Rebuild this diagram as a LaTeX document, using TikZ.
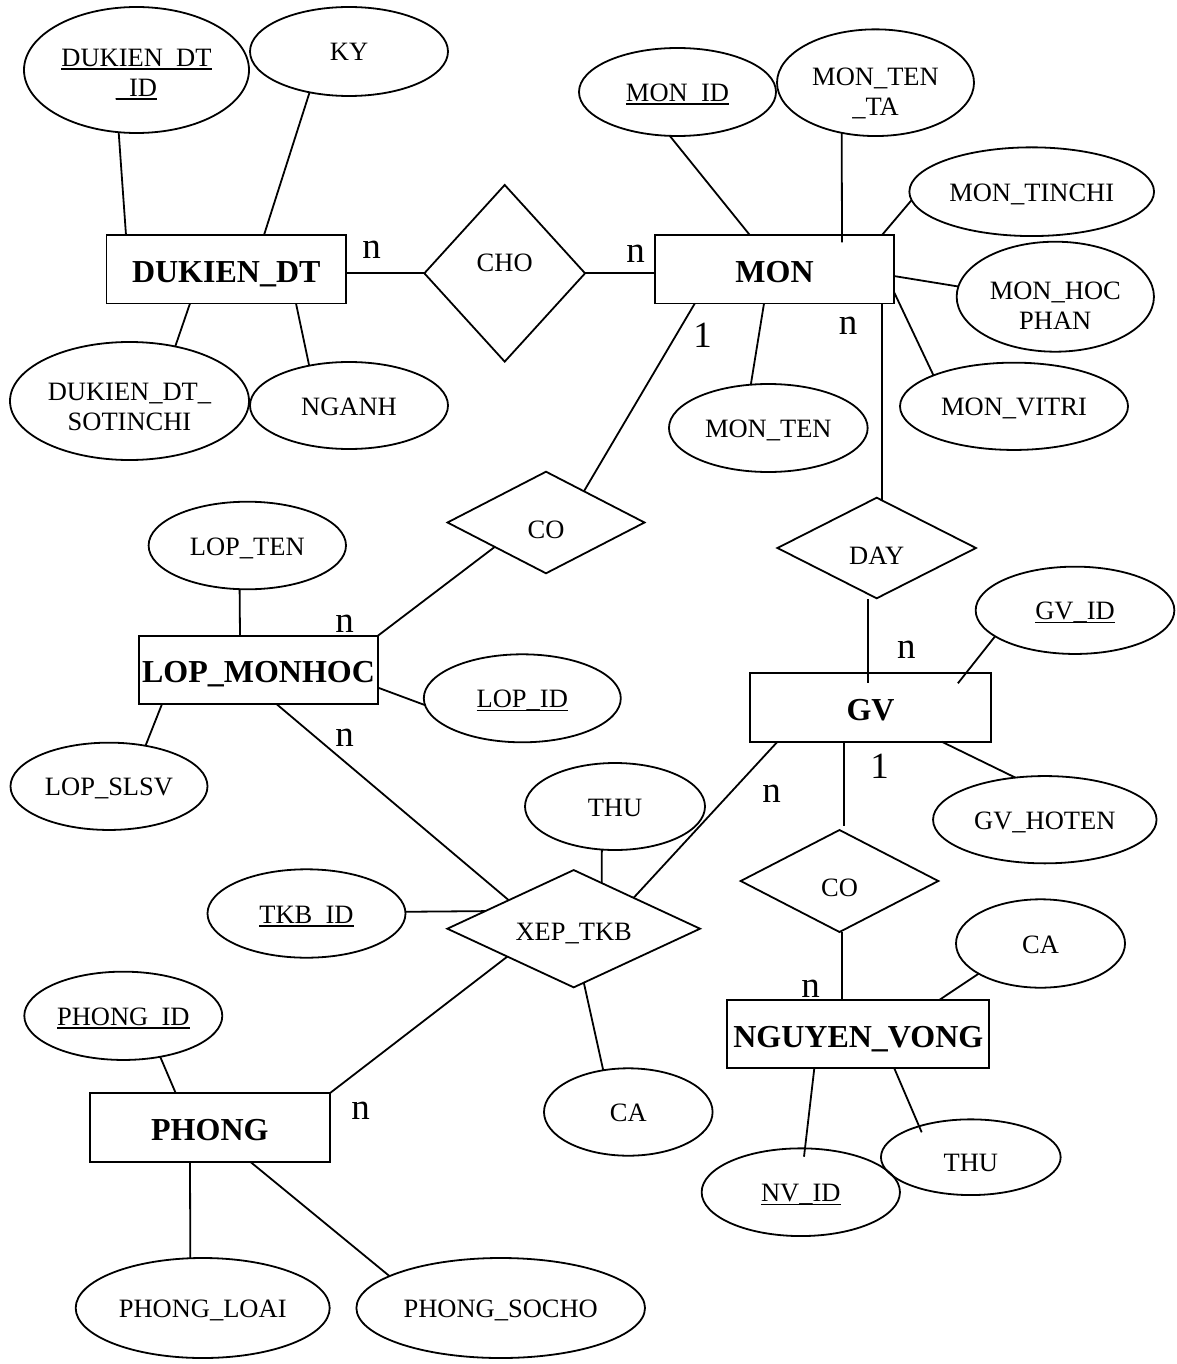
\documentclass[tikz,border=0pt]{standalone}
\usepackage{fontspec}
\setmainfont{Liberation Serif}
\usetikzlibrary{shapes.geometric,calc}

% type sizes
\newcommand\attrfont{\fontsize{26.5}{30}\selectfont}
\newcommand\entfont{\fontsize{32}{36}\selectfont\bfseries}
\newcommand\cardfont{\fontsize{37}{40}\selectfont}
% underline for key attributes
\newcommand\keyul[1]{\setbox0\hbox{#1}\rlap{\rule[-3.6pt]{\wd0}{1.6pt}}\box0}

\begin{document}
\begin{tikzpicture}[x=1pt,y=-1pt,line width=1.8pt,
  every node/.style={inner sep=0pt,outer sep=0pt},
  attrib/.style 2 args={draw,ellipse,minimum width=#1pt,minimum height=#2pt,
    font=\attrfont,text height=19pt,text depth=0pt},
  entity/.style 2 args={draw,rectangle,minimum width=#1pt,minimum height=#2pt,
    font=\entfont,text height=29pt,text depth=3pt},
  relship/.style 2 args={draw,diamond,minimum width=#1pt,minimum height=#2pt},
  nodetext/.style={font=\attrfont,align=center},
  cardlbl/.style={font=\cardfont}]

\useasboundingbox (0,0) rectangle (1176,1364);
\fill[white] (0,0) rectangle (1176,1364);

% entities
\node[entity={239.5}{68.4}] (dk)  at (226.25,269.25) {DUKIEN\_DT};
\node[entity={239}{68.4}]   (mon) at (774.5,269.25)  {MON};
\node[entity={239}{68.4}]   (lop) at (258.5,669.85)  {LOP\_MONHOC};
\node[entity={241}{68.4}]   (gv)  at (870.5,707.5)   {GV};
\node[entity={239.7}{68.4}] (ph)  at (209.85,1127.5) {PHONG};
\node[entity={262}{68.4}]   (nv)  at (858.3,1034.15) {NGUYEN\_VONG};

% relationships
\node[relship={160.7}{176.7},label={[nodetext,yshift=10.6pt]center:CHO}] (cho) at (504.7,273.3) {};
\node[relship={197}{101.6},label={[nodetext,yshift=-7.5pt]center:CO}] (coa) at (546,522.5) {};
\node[relship={198.5}{100.6},label={[nodetext,yshift=-7.7pt]center:DAY}] (day) at (876.7,548) {};
\node[relship={197.6}{102},label={[nodetext,yshift=-7.3pt]center:CO}] (cob) at (839.5,881) {};
\node[relship={252.7}{117.3},label={[nodetext,yshift=-4.5pt]center:XEP\_TKB}] (xep) at (573.7,928.7) {};

% attributes
\node[attrib={225}{126},label={[nodetext,yshift=-4.5pt]center:{\keyul{DUKIEN\_DT}\\\keyul{\_ID}}}] (dkid) at (136.5,70) {};
\node[attrib={198}{89}] (ky) at (349,51.5) {KY};
\node[attrib={239}{118},label={[nodetext,yshift=-5.7pt]center:{DUKIEN\_DT\_\\SOTINCHI}}] (dkso) at (129.5,401) {};
\node[attrib={198}{87}] (nganh) at (349,405.5) {NGANH};
\node[attrib={197}{88}] (monid) at (677.5,92) {\keyul{MON\_ID}};
\node[attrib={197}{106.7},label={[nodetext,yshift=-11pt]center:{MON\_TEN\\\_TA}}] (montenta) at (875.5,82.7) {};
\node[attrib={244.7}{88.7}] (montinchi) at (1031.7,191.7) {MON\_TINCHI};
\node[attrib={197.3}{110},label={[nodetext,yshift=-9pt]center:{MON\_HOC\\PHAN}}] (monhp) at (1055.3,296.7) {};
\node[attrib={228}{87.3}] (monvitri) at (1014,406.3) {MON\_VITRI};
\node[attrib={198.7}{88}] (monten) at (768.3,428) {MON\_TEN};
\node[attrib={197.4}{87.6}] (lopten) at (247.3,545.5) {LOP\_TEN};
\node[attrib={197}{88}] (lopid) at (522.3,698.3) {\keyul{LOP\_ID}};
\node[attrib={197}{87.3}] (lopslsv) at (109,786.3) {LOP\_SLSV};
\node[attrib={198.7}{87.3}] (gvid) at (1075,610.3) {\keyul{GV\_ID}};
\node[attrib={223.5}{87.3}] (gvhoten) at (1044.8,819.7) {GV\_HOTEN};
\node[attrib={180}{87}] (thua) at (615,806.5) {THU};
\node[attrib={198}{88.4}] (tkbid) at (306.5,913.5) {\keyul{TKB\_ID}};
\node[attrib={168.6}{87.4}] (caa) at (628.3,1112) {CA};
\node[attrib={198}{88.3}] (phid) at (123.3,1015.8) {\keyul{PHONG\_ID}};
\node[attrib={254}{100}] (phloai) at (202.7,1308) {PHONG\_LOAI};
\node[attrib={288.6}{100}] (phsocho) at (500.7,1308) {PHONG\_SOCHO};
\node[attrib={169}{88.4}] (cab) at (1040.5,943.5) {CA};
\node[attrib={198.3}{87.7}] (nvid) at (800.8,1192.2) {\keyul{NV\_ID}};
\node[attrib={179.7}{75.7},label={[nodetext,yshift=-5.6pt]center:THU}] (thub) at (970.8,1157.2) {};

% cardinalities
\node[cardlbl] (k1) at (371.7,249.5) {n};
\node[cardlbl] (k2) at (635.6,253.8) {n};
\node[cardlbl] (k3) at (702.5,335) {1};
\node[cardlbl] (k4) at (848,325.5) {n};
\node[cardlbl] (k5) at (344.7,623.8) {n};
\node[cardlbl] (k6) at (344.7,737.5) {n};
\node[cardlbl] (k7) at (906.3,649.7) {n};
\node[cardlbl] (k8) at (879.7,765.8) {1};
\node[cardlbl] (k9) at (771.5,793.3) {n};
\node[cardlbl] (k10) at (810.5,989.2) {n};
\node[cardlbl] (k11) at (360.6,1110.3) {n};

% DUKIEN_DT links
\draw (dkid.254) -- ($(dk.north west)+(19.5,0)$);
\draw (ky.226) -- ($(dk.north west)+(157.5,0)$);
\draw ($(dk.south west)+(83.5,0)$) -- (dkso.50);
\draw ($(dk.south west)+(189.5,0)$) -- (nganh.135);
\draw (cho.west) -- (cho.west -| dk.east);
\draw (cho.east) -- (cho.east -| mon.west);

% MON links
\draw (monid.260) -- ($(mon.north west)+(94.8,0)$);
\draw (montenta.236) -- ($(mon.north west)+(187,7.3)$);
\draw (montinchi.184) -- ($(mon.north west)+(227,0)$);
\draw ($(mon.north east)+(0,41)$) -- (monhp.174);
\draw ($(mon.north east)+(0,57)$) -- (monvitri.159);
\draw ($(mon.south west)+(109,0)$) -- (monten.112);
\draw ($(mon.south west)+(227,0)$) -- ($(day.north)+(5.3,3)$);
\draw ($(mon.south west)+(39.8,0)$) -- ($(coa.north)!0.385!(coa.east)$);

% LOP_MONHOC links
\draw (lopten.260) -- ($(lop.north west)+(101,0)$);
\draw (lop.north east) -- ($(coa.west)!0.48!(coa.south)$);
\draw ($(lop.north east)+(0,52)$) -- (lopid.184);
\draw ($(lop.south west)+(23,0)$) -- (lopslsv.48);
\draw ($(lop.south west)+(137.5,0)$) -- ($(xep.west)!0.486!(xep.north)$);

% XEP_TKB links
\draw (thua.253) -- ($(xep.north)!0.222!(xep.east)$);
\draw (tkbid.1) -- ($(xep.west)!0.3!(xep.north)$);
\draw ($(gv.south west)+(27.5,0)$) -- ($(xep.north)!0.474!(xep.east)$);
\draw ($(xep.west)!0.475!(xep.south)$) -- (ph.north east);
\draw ($(xep.south)!0.08!(xep.east)$) -- (caa.121);

% PHONG links
\draw (phid.312) -- ($(ph.north west)+(85.8,0)$);
\draw ($(ph.south west)+(100,0)$) -- (phloai.104);
\draw ($(ph.south west)+(160.2,0)$) -- (phsocho.164);

% GV links
\draw ($(day.south)+(-8.9,1)$) -- ($(gv.north west)+(117.8,9.4)$);
\draw (gvid.198) -- ($(gv.north west)+(207.9,10)$);
\draw ($(gv.south west)+(93.8,0)$) -- ($(cob.north)+(4.3,-4.3)$);
\draw ($(gv.south west)+(191.7,0)$) -- (gvhoten.125);

% NGUYEN_VONG links
\draw ($(cob.south)+(2.5,0)$) -- ($(nv.north west)+(114.7,0)$);
\draw (cab.206) -- ($(nv.north west)+(212,0)$);
\draw ($(nv.south west)+(87,0)$) -- ($(nvid.center)+(3.2,-35.5)$);
\draw ($(nv.south west)+(167,0)$) -- ($(thub.center)+(-49.1,-24.9)$);
\end{tikzpicture}
\end{document}
